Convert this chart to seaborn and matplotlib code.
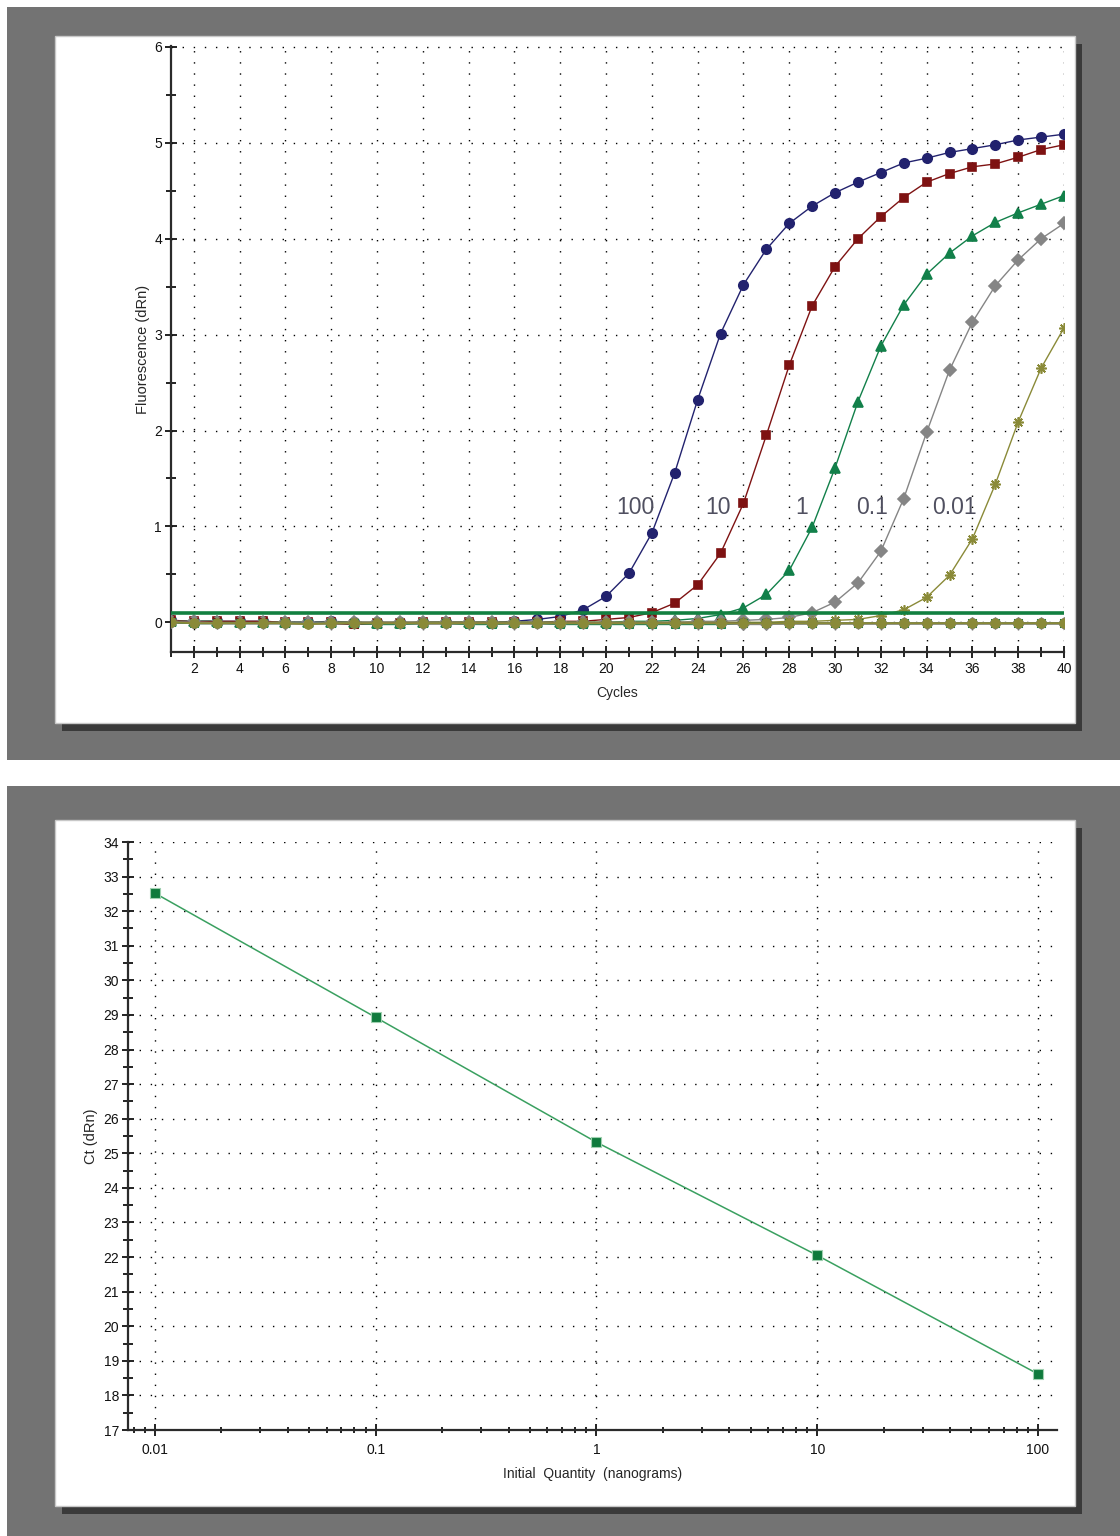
import matplotlib
matplotlib.use("Agg")
import matplotlib.pyplot as plt
from matplotlib.patches import Rectangle
from matplotlib.ticker import MultipleLocator, FixedLocator, LogLocator, NullFormatter
import seaborn as sns

# amplification plot data (fluorescence dRn per cycle)
cycles = list(range(1, 41))
fluor_100 = [0.02, 0.01, 0.01, 0.01, 0.01, 0.00, 0.00, 0.01, 0.00, 0.00,
             0.00, 0.00, 0.00, 0.00, 0.00, 0.01, 0.03, 0.06, 0.13, 0.27,
             0.51, 0.93, 1.56, 2.32, 3.01, 3.52, 3.89, 4.16, 4.34, 4.48,
             4.59, 4.69, 4.79, 4.84, 4.90, 4.94, 4.98, 5.03, 5.06, 5.09]
fluor_10 = [0.02, 0.01, 0.01, 0.01, 0.01, 0.00, 0.00, 0.00, -0.02, -0.01,
            -0.01, 0.00, 0.00, 0.00, 0.00, 0.00, 0.00, 0.01, 0.01, 0.03,
            0.05, 0.10, 0.20, 0.39, 0.72, 1.24, 1.95, 2.68, 3.30, 3.71,
            4.00, 4.23, 4.43, 4.59, 4.68, 4.75, 4.78, 4.85, 4.93, 4.98]
fluor_1 = [0.01, 0.01, 0.01, 0.00, 0.00, 0.00, 0.00, 0.00, 0.00, -0.01,
           -0.01, 0.00, 0.00, 0.00, 0.00, 0.00, 0.00, 0.00, 0.00, 0.00,
           0.01, 0.01, 0.02, 0.04, 0.08, 0.15, 0.29, 0.54, 0.99, 1.61,
           2.30, 2.88, 3.31, 3.63, 3.85, 4.03, 4.17, 4.27, 4.36, 4.45]
fluor_01 = [0.01, 0.01, 0.00, 0.00, 0.00, 0.00, 0.00, 0.00, 0.00, 0.00,
            0.00, 0.00, 0.00, 0.00, 0.00, 0.00, 0.00, 0.00, 0.00, 0.00,
            0.00, 0.00, 0.00, 0.01, 0.01, 0.02, 0.03, 0.05, 0.10, 0.21,
            0.41, 0.74, 1.29, 1.98, 2.63, 3.13, 3.51, 3.78, 4.00, 4.16]
fluor_001 = [0.01, 0.00, 0.00, 0.00, 0.00, 0.00, -0.01, 0.00, 0.00, 0.00,
             0.00, 0.00, 0.00, 0.00, 0.00, 0.00, 0.00, 0.00, 0.00, 0.00,
             0.00, 0.00, 0.00, 0.00, 0.00, 0.00, 0.00, 0.01, 0.01, 0.02,
             0.03, 0.07, 0.13, 0.26, 0.49, 0.87, 1.44, 2.09, 2.65, 3.07]

# no-template controls, all flat near zero
ntc_a = [0.00, -0.01, -0.01, -0.01, -0.01, -0.01, -0.01, -0.01, -0.01, -0.01,
         -0.01, -0.01, -0.01, -0.01, -0.01, -0.01, -0.01, -0.01, -0.01, -0.01,
         -0.01, -0.01, -0.01, -0.01, -0.01, -0.01, -0.01, -0.01, -0.01, -0.01,
         -0.01, -0.01, -0.01, -0.01, -0.01, -0.01, -0.01, -0.01, -0.01, -0.01]
ntc_b = [0.01, 0.00, 0.00, 0.00, 0.00, -0.01, -0.01, -0.01, -0.02, -0.01,
         -0.01, -0.01, -0.01, -0.01, -0.01, -0.01, -0.01, -0.01, -0.01, -0.01,
         -0.01, -0.01, -0.01, -0.01, -0.01, -0.01, -0.01, -0.01, -0.01, -0.01,
         -0.01, -0.01, -0.01, -0.01, -0.01, -0.01, -0.01, -0.01, -0.01, -0.01]
ntc_c = [0.00, -0.01, -0.01, -0.01, -0.01, -0.01, -0.01, -0.01, -0.01, -0.02,
         -0.02, -0.01, -0.01, -0.02, -0.02, -0.01, -0.01, -0.02, -0.02, -0.02,
         -0.02, -0.02, -0.02, -0.02, -0.02, -0.01, -0.01, -0.01, -0.01, -0.01,
         -0.01, -0.01, -0.01, -0.01, -0.01, -0.01, -0.01, -0.01, -0.01, -0.01]
ntc_d = [0.00, 0.00, -0.01, -0.01, -0.01, -0.01, -0.01, -0.01, -0.01, -0.01,
         -0.01, -0.01, -0.01, -0.01, -0.01, -0.01, -0.01, -0.01, -0.01, -0.01,
         -0.01, -0.01, -0.01, -0.01, -0.01, -0.02, -0.02, -0.01, -0.01, -0.01,
         -0.01, -0.01, -0.01, -0.01, -0.01, -0.01, -0.01, -0.01, -0.01, -0.01]
ntc_e = [0.00, -0.01, -0.01, -0.01, -0.01, -0.01, -0.02, -0.01, -0.01, -0.01,
         -0.01, -0.01, -0.01, -0.01, -0.01, -0.01, -0.01, -0.01, -0.01, -0.01,
         -0.01, -0.01, -0.01, -0.01, -0.01, -0.01, -0.01, -0.01, -0.01, -0.01,
         -0.01, -0.01, -0.01, -0.01, -0.01, -0.01, -0.01, -0.01, -0.01, -0.01]

threshold = 0.1
dilution_labels = ["100", "10", "1", "0.1", "0.01"]
label_cycle = [21.3, 24.9, 28.55, 31.6, 35.2]
label_level = 1.2

# standard curve data
quantity_ng = [0.01, 0.1, 1, 10, 100]
ct_values = [32.52, 28.93, 25.32, 22.05, 18.62]

W, H = 1120, 1536

sns.set_style("white")
plt.rcParams["font.family"] = ["Liberation Sans", "DejaVu Sans"]

fig = plt.figure(figsize=(W / 100, H / 100), dpi=100, facecolor="white")


def box(x0, y0, x1, y1, **kw):
    # rectangle in pixel coords, origin at top-left
    r = Rectangle((x0 / W, 1 - y1 / H), (x1 - x0) / W, (y1 - y0) / H,
                  transform=fig.transFigure, zorder=-10, **kw)
    fig.patches.append(r)


def axes_px(x0, y0, x1, y1):
    return fig.add_axes([x0 / W, 1 - y1 / H, (x1 - x0) / W, (y1 - y0) / H])


# window frames
for top, bottom, in_top, in_bot in [(7, 760, 36, 723), (786, 1536, 820, 1506)]:
    box(7, top, W, bottom, color="#737373", lw=0)
    box(62, in_top + 8, 1082, in_bot + 8, color="#3a3a3a", lw=0)
    box(55, in_top, 1075, in_bot, facecolor="white", edgecolor="#c8c8c8", lw=1)


def style_axes(ax):
    ax.set_facecolor("none")
    for side in ["top", "right"]:
        ax.spines[side].set_visible(False)
    for side in ["left", "bottom"]:
        ax.spines[side].set_color("#2b2b2b")
        ax.spines[side].set_linewidth(1.6)
    ax.tick_params(which="both", bottom=True, left=True, top=False, right=False)
    ax.tick_params(which="major", direction="inout", length=9, width=1.3,
                   color="#111111", labelsize=10, pad=2, labelcolor="#111111")
    ax.tick_params(which="minor", direction="inout", length=7, width=1.3,
                   color="#111111")
    ax.grid(True, which="major", color="black", lw=1.0, ls=(0, (1, 7)))


# amplification plot
ax1 = axes_px(171, 46, 1064, 652)
style_axes(ax1)

series = [
    (fluor_100, "#22226e", "o", 6.8),
    (fluor_10, "#7e1212", "s", 6.3),
    (fluor_1, "#12804a", "^", 7),
    (fluor_01, "#858585", "D", 5.8),
    (fluor_001, "#8a8a38", (8, 2, 0), 7.5),
]
for vals, col, mk, ms in series:
    sns.lineplot(x=cycles, y=vals, color=col, marker=mk, markersize=ms,
                 markeredgecolor=col, markeredgewidth=1.2, lw=1.0, ax=ax1,
                 zorder=3)

ntc = [
    (ntc_a, "#22226e", "o", 6.8),
    (ntc_b, "#7e1212", "s", 6.3),
    (ntc_c, "#12804a", "s", 6.3),
    (ntc_d, "#858585", "D", 6.3),
    (ntc_e, "#8a8a38", "o", 6.8),
]
for vals, col, mk, ms in ntc:
    sns.lineplot(x=cycles, y=vals, color=col, marker=mk, markersize=ms,
                 markeredgecolor=col, lw=1.4, ax=ax1, zorder=4)

ax1.axhline(threshold, color="#128040", lw=2.6, zorder=5)

for lab, cx in zip(dilution_labels, label_cycle):
    ax1.text(cx, label_level, lab, ha="center", va="center", fontsize=16.5,
             color="#505060", zorder=6)

ax1.set_xlim(1, 40)
ax1.set_ylim(-0.31, 6.01)
ax1.xaxis.set_major_locator(MultipleLocator(2))
ax1.xaxis.set_minor_locator(MultipleLocator(1))
ax1.yaxis.set_major_locator(FixedLocator([0, 1, 2, 3, 4, 5, 6]))
ax1.yaxis.set_minor_locator(MultipleLocator(0.5))
ax1.tick_params(axis="x", which="major", pad=3)
ax1.set_xlabel("Cycles", fontsize=10, labelpad=7)
ax1.set_ylabel("Fluorescence (dRn)", fontsize=10.5, labelpad=3)

# standard curve
ax2 = axes_px(128, 842, 1057, 1430)
style_axes(ax2)
ax2.set_xscale("log")
sns.lineplot(x=quantity_ng, y=ct_values, color="#3aa060", lw=1.1,
             marker="s", markersize=7.5, markerfacecolor="#0f7a3c",
             markeredgecolor="#9fd0b0", markeredgewidth=0.8, ax=ax2, zorder=3)

ax2.set_xlim(0.00755, 122)
ax2.set_ylim(17, 34)
ax2.xaxis.set_major_locator(FixedLocator(quantity_ng))
ax2.set_xticklabels(["0.01", "0.1", "1", "10", "100"])
ax2.xaxis.set_minor_locator(LogLocator(base=10, subs=[2, 3, 4, 5, 6, 7, 8, 9], numticks=20))
ax2.xaxis.set_minor_formatter(NullFormatter())
ax2.tick_params(axis="x", which="minor", length=5)
ax2.yaxis.set_major_locator(MultipleLocator(1))
ax2.yaxis.set_minor_locator(MultipleLocator(0.5))
ax2.tick_params(axis="x", which="major", pad=5)
ax2.set_xlabel("Initial  Quantity  (nanograms)", fontsize=10, labelpad=7)
ax2.set_ylabel("Ct (dRn)", fontsize=10.5, labelpad=4)

fig.savefig("out.png", dpi=100, facecolor="white")
